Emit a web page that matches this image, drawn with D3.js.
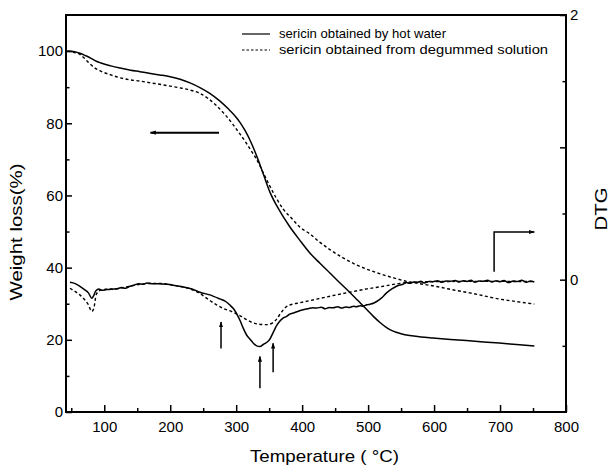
<!DOCTYPE html>
<html>
<head>
<meta charset="utf-8">
<script src="https://cdn.jsdelivr.net/npm/d3@7"></script>
<style>
  body { margin: 0; background: #fff; }
  text { font-family: Arial, "Liberation Sans", sans-serif; fill: #000; }
</style>
</head>
<body>
<div id="chart"></div>
<script>
// TG curves: [temperature (°C), weight loss (%)]
const tgHotWater = [[44,100],[55,99.8],[63,99.4],[72,98.7],[80,98],[88,97.2],[95,96.7],[110,95.9],[124,95.3],[140,94.7],[154,94.3],[170,93.8],[184,93.4],[200,92.9],[215,92.2],[230,91.2],[245,89.9],[260,88.3],[275,86.2],[288,84],[297,82.3],[306,80.2],[314,77.8],[321,75.3],[327,72.8],[333,70],[341,66],[351,61],[366,55.7],[381,51.4],[396,47.7],[412,44],[427,41.2],[442,38.5],[457,35.8],[472,33.2],[485,30.8],[498,28.4],[508,26.5],[518,24.8],[528,23.4],[538,22.4],[550,21.7],[563,21.2],[580,20.8],[598,20.5],[625,20.1],[649,19.8],[675,19.4],[699,19.1],[725,18.7],[752,18.3]];
const tgDegummed = [[44,100],[55,99.6],[63,99.1],[70,98],[78,96.5],[86,95.3],[94,94.5],[110,93.4],[124,92.6],[140,92],[154,91.7],[170,91.2],[184,90.8],[200,90.3],[215,89.8],[230,89.2],[245,88.3],[258,86.8],[270,84.9],[283,82.4],[295,79.7],[305,77.2],[315,74.6],[322,72.6],[328,70.9],[335,68.6],[341,66.3],[351,62.6],[361,59.2],[371,56.3],[384,53.7],[396,51.3],[412,49.3],[427,47],[442,45],[462,42.7],[482,40.8],[502,39.3],[523,38],[540,37.1],[558,36.2],[583,35.4],[609,34.6],[630,33.8],[654,33],[675,32.2],[699,31.3],[725,30.6],[752,29.9]];

// DTG curves: [temperature (°C), DTG]
const dtgHotWater = [[48,-0.02],[56,-0.03],[63,-0.05],[70,-0.075],[76,-0.1],[81,-0.14],[84,-0.12],[87,-0.085],[92,-0.07],[96,-0.08],[104,-0.075],[112,-0.072],[119,-0.07],[126,-0.06],[132,-0.065],[139,-0.05],[146,-0.04],[152,-0.03],[159,-0.035],[165,-0.025],[172,-0.03],[182,-0.03],[195,-0.035],[208,-0.045],[220,-0.055],[233,-0.07],[245,-0.095],[260,-0.115],[275,-0.145],[284,-0.165],[290,-0.19],[296,-0.22],[301,-0.26],[306,-0.31],[311,-0.37],[316,-0.42],[321,-0.45],[326,-0.48],[331,-0.5],[336,-0.505],[341,-0.49],[346,-0.475],[351,-0.45],[356,-0.4],[361,-0.35],[366,-0.315],[371,-0.29],[376,-0.28],[381,-0.26],[388,-0.25],[396,-0.235],[403,-0.225],[409,-0.22],[416,-0.212],[422,-0.215],[429,-0.208],[435,-0.22],[441,-0.21],[447,-0.213],[454,-0.205],[460,-0.215],[466,-0.206],[472,-0.21],[478,-0.2],[482,-0.205],[488,-0.198],[492,-0.2],[498,-0.19],[503,-0.185],[508,-0.178],[513,-0.165],[520,-0.14],[528,-0.1],[536,-0.07],[543,-0.05],[548,-0.04],[553,-0.035],[558,-0.022],[563,-0.028],[569,-0.018],[575,-0.02],[580,-0.012],[585,-0.025],[592,-0.014],[598,-0.015],[605,-0.008],[612,-0.02],[618,-0.01],[625,-0.012],[632,-0.006],[638,-0.018],[644,-0.008],[650,-0.013],[656,-0.004],[662,-0.02],[668,-0.01],[675,-0.012],[681,-0.004],[688,-0.018],[694,-0.008],[700,-0.015],[706,-0.006],[713,-0.022],[720,-0.01],[726,-0.014],[733,-0.005],[740,-0.02],[746,-0.01],[752,-0.018]];
const dtgDegummed = [[48,-0.065],[56,-0.09],[63,-0.115],[70,-0.15],[76,-0.19],[81,-0.24],[84,-0.22],[88,-0.11],[94,-0.08],[104,-0.072],[119,-0.068],[139,-0.05],[159,-0.032],[182,-0.028],[208,-0.045],[233,-0.075],[245,-0.105],[258,-0.15],[270,-0.19],[282,-0.22],[295,-0.245],[305,-0.27],[315,-0.3],[325,-0.325],[335,-0.337],[346,-0.34],[354,-0.33],[361,-0.3],[368,-0.25],[376,-0.205],[386,-0.185],[396,-0.175],[422,-0.147],[447,-0.12],[472,-0.095],[498,-0.07],[523,-0.05],[548,-0.028],[575,-0.018],[600,-0.015],[650,-0.013],[700,-0.013],[752,-0.015]];

const xTicks = [100, 200, 300, 400, 500, 600, 700, 800];
const xMinorTicks = [50, 150, 250, 350, 450, 550, 650, 750];
const yTicks = [0, 20, 40, 60, 80, 100];
const yMinorTicks = [10, 30, 50, 70, 90];
const dtgTicks = [0, 1, 2];
const dtgMinorTicks = [-0.5, 0.5, 1.5];
const dtgLabels = [0, 2];
const legendLabels = ["sericin obtained by hot water", "sericin obtained from degummed solution"];

// arrows: start point, corner(s), end point (head at end)
const tgArrow = [[274, 77.4], [170, 77.4]];
const dtgArrow = [[691, 0.06], [691, 0.36], [752, 0.36]];
const peakArrows = [
  [[277, -0.52], [277, -0.32]],
  [[336, -0.82], [336, -0.58]],
  [[356, -0.70], [356, -0.48]]
];

const width = 615, height = 471;
const margin = {top: 15, right: 49, bottom: 59, left: 66};
const w = width - margin.left - margin.right;
const h = height - margin.top - margin.bottom;

const svg = d3.select("#chart").append("svg")
  .attr("width", width)
  .attr("height", height);

const defs = svg.append("defs");
defs.append("marker")
  .attr("id", "head")
  .attr("viewBox", "0 0 10 10")
  .attr("refX", 9).attr("refY", 5)
  .attr("markerWidth", 6).attr("markerHeight", 6)
  .attr("markerUnits", "userSpaceOnUse")
  .attr("orient", "auto")
  .append("path")
  .attr("d", "M0,1.5 L10,5 L0,8.5 Z")
  .attr("fill", "#000");

const g = svg.append("g")
  .attr("transform", `translate(${margin.left},${margin.top})`);

const x = d3.scaleLinear().domain([42, 800]).range([0, w]);
const yL = d3.scaleLinear().domain([0, 110]).range([h, 0]);
const yR = d3.scaleLinear().domain([-1, 2]).range([h, 0]);

// axes, ticks pointing inside
function styleAxis(sel) {
  sel.select(".domain").remove();
  sel.selectAll("line").attr("stroke", "#000").attr("stroke-width", 1.5);
  sel.selectAll("text").style("font-size", "15px");
}

g.append("g").attr("transform", `translate(0,${h})`)
  .call(d3.axisBottom(x).tickValues(xTicks).tickSize(-7).tickPadding(9))
  .call(styleAxis);
g.append("g").attr("transform", `translate(0,${h})`)
  .call(d3.axisBottom(x).tickValues(xMinorTicks).tickSize(-4).tickFormat(""))
  .call(styleAxis);

g.append("g")
  .call(d3.axisLeft(yL).tickValues(yTicks).tickSize(-6).tickPadding(3))
  .call(styleAxis);
g.append("g")
  .call(d3.axisLeft(yL).tickValues(yMinorTicks).tickSize(-3.5).tickFormat(""))
  .call(styleAxis);

g.append("g").attr("transform", `translate(${w},0)`)
  .call(d3.axisRight(yR).tickValues(dtgTicks).tickSize(-6).tickPadding(4)
    .tickFormat(d => dtgLabels.includes(d) ? d : ""))
  .call(styleAxis);
g.append("g").attr("transform", `translate(${w},0)`)
  .call(d3.axisRight(yR).tickValues(dtgMinorTicks).tickSize(-3.5).tickFormat(""))
  .call(styleAxis);

// frame
g.append("rect")
  .attr("width", w).attr("height", h)
  .attr("fill", "none")
  .attr("stroke", "#000")
  .attr("stroke-width", 2);

// curves
const tgLine = d3.line().x(d => x(d[0])).y(d => yL(d[1])).curve(d3.curveMonotoneX);
const dtgLine = d3.line().x(d => x(d[0])).y(d => yR(d[1])).curve(d3.curveMonotoneX);

const series = [
  {data: tgHotWater, line: tgLine, dash: null},
  {data: tgDegummed, line: tgLine, dash: "3,2.5"},
  {data: dtgHotWater, line: dtgLine, dash: null},
  {data: dtgDegummed, line: dtgLine, dash: "3,2.5"}
];
series.forEach(s => {
  g.append("path")
    .datum(s.data)
    .attr("fill", "none")
    .attr("stroke", "#000")
    .attr("stroke-width", s.dash ? 1.4 : 1.5)
    .attr("stroke-dasharray", s.dash)
    .attr("d", s.line);
});

// arrows
const arrowPath = d3.line();
g.append("path")
  .attr("d", arrowPath(tgArrow.map(d => [x(d[0]), yL(d[1])])))
  .attr("fill", "none").attr("stroke", "#000").attr("stroke-width", 2)
  .attr("marker-end", "url(#head)");
g.append("path")
  .attr("d", arrowPath(dtgArrow.map(d => [x(d[0]), yR(d[1])])))
  .attr("fill", "none").attr("stroke", "#000").attr("stroke-width", 1.5)
  .attr("marker-end", "url(#head)");
peakArrows.forEach(a => {
  g.append("path")
    .attr("d", arrowPath(a.map(d => [x(d[0]), yR(d[1])])))
    .attr("fill", "none").attr("stroke", "#000").attr("stroke-width", 1.5)
    .attr("marker-end", "url(#head)");
});

// legend
const legend = g.append("g").attr("transform", `translate(${242 - margin.left},${34 - margin.top})`);
legendLabels.forEach((label, i) => {
  legend.append("line")
    .attr("x1", 0).attr("x2", 28)
    .attr("y1", i * 16).attr("y2", i * 16)
    .attr("stroke", "#000").attr("stroke-width", 1.2)
    .attr("stroke-dasharray", i === 1 ? "2.5,2" : null);
  legend.append("text")
    .attr("x", 37).attr("y", i * 16 + 4)
    .attr("textLength", i === 0 ? 167 : 269)
    .attr("lengthAdjust", "spacingAndGlyphs")
    .style("font-size", "13px")
    .text(label);
});

// axis titles
svg.append("text")
  .attr("x", 250).attr("y", 462)
  .attr("textLength", 149)
  .attr("lengthAdjust", "spacingAndGlyphs")
  .style("font-size", "17px")
  .text("Temperature ( °C)");

svg.append("text")
  .attr("transform", "translate(22,232) rotate(-90)")
  .attr("text-anchor", "middle")
  .attr("textLength", 137)
  .attr("lengthAdjust", "spacingAndGlyphs")
  .style("font-size", "17px")
  .text("Weight loss(%)");

svg.append("text")
  .attr("transform", "translate(607,209) rotate(-90)")
  .attr("text-anchor", "middle")
  .attr("textLength", 43)
  .attr("lengthAdjust", "spacingAndGlyphs")
  .style("font-size", "17px")
  .text("DTG");
</script>
</body>
</html>
